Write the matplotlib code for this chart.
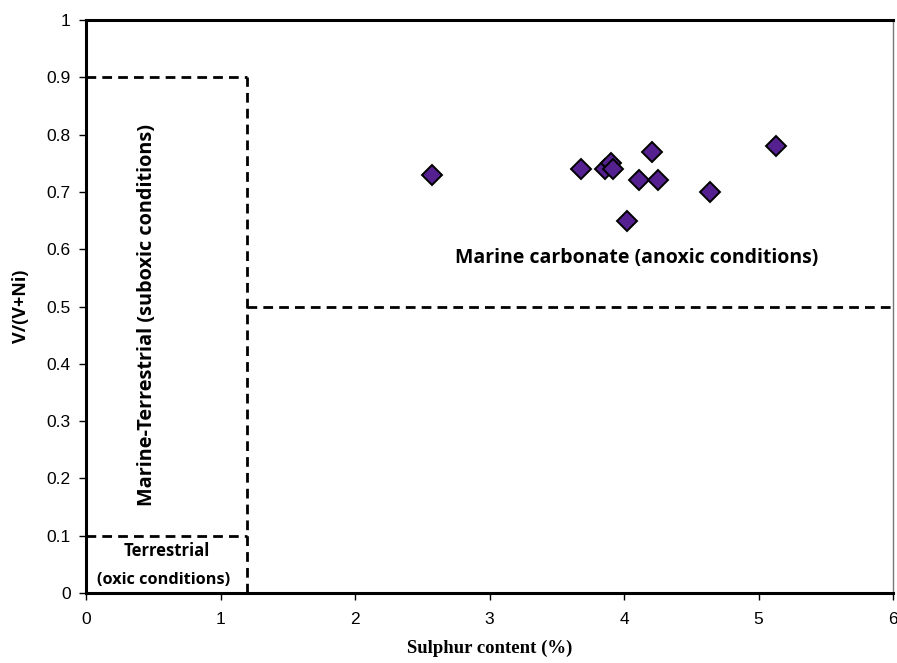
import matplotlib
matplotlib.use("Agg")
import matplotlib.pyplot as plt

sulphur = [2.57, 3.68, 3.86, 3.90, 3.92, 4.21, 4.11, 4.25, 4.02, 4.64, 5.13]
v_ratio = [0.73, 0.74, 0.74, 0.75, 0.74, 0.77, 0.72, 0.72, 0.65, 0.70, 0.78]

x_ticks = [0, 1, 2, 3, 4, 5, 6]
y_ticks = [0, 0.1, 0.2, 0.3, 0.4, 0.5, 0.6, 0.7, 0.8, 0.9, 1.0]
y_tick_labels = ["0", "0.1", "0.2", "0.3", "0.4", "0.5", "0.6", "0.7", "0.8", "0.9", "1"]

fig = plt.figure(figsize=(8.97, 6.63), dpi=100)
ax = fig.add_axes([0.0959, 0.1056, 0.8997, 0.8642])

dash = (0, (3.5, 2.2))
ax.plot([0, 1.2], [0.9, 0.9], color="black", lw=2, linestyle=dash)
ax.plot([1.2, 1.2], [0, 0.9], color="black", lw=2, linestyle=dash)
ax.plot([0, 1.2], [0.1, 0.1], color="black", lw=2, linestyle=dash)
ax.plot([1.2, 6], [0.5, 0.5], color="black", lw=2, linestyle=dash)

ax.plot(sulphur, v_ratio, linestyle="none", marker="D", markersize=10.5,
        markerfacecolor="#55208f", markeredgecolor="black", markeredgewidth=1.4)

ax.set_xlim(0, 6)
ax.set_ylim(0, 1)
ax.set_xticks(x_ticks)
ax.set_yticks(y_ticks)
ax.set_yticklabels(y_tick_labels)
ax.tick_params(axis="both", direction="out", length=5, width=1, labelsize=12.5,
               pad=6)
for lab in ax.get_xticklabels() + ax.get_yticklabels():
    lab.set_fontfamily("Liberation Sans")
ax.tick_params(axis="x", pad=9)

for side in ["left", "top", "bottom"]:
    ax.spines[side].set_linewidth(2.2)
    ax.spines[side].set_color("black")
ax.spines["right"].set_linewidth(1)
ax.spines["right"].set_color("#777777")

ax.set_ylabel("V/(V+Ni)", fontsize=13, fontweight="bold", family="Open Sans", labelpad=12)
ax.set_xlabel("Sulphur content (%)", fontsize=13.5, fontweight="bold",
              family="Liberation Serif", labelpad=9)

ax.text(4.09, 0.585, "Marine carbonate (anoxic conditions)", ha="center", va="center",
        fontsize=14, fontweight="bold", family="Open Sans")
ax.text(0.45, 0.485, "Marine-Terrestrial (suboxic conditions)", ha="center", va="center",
        rotation=90, fontsize=14.3, fontweight="bold", family="Open Sans")
ax.text(0.6, 0.073, "Terrestrial", ha="center", va="center",
        fontsize=12, fontweight="bold", family="Open Sans")
ax.text(0.58, 0.022, "(oxic conditions)", ha="center", va="center",
        fontsize=11.7, fontweight="bold", family="Open Sans")

fig.savefig("out.png", dpi=100)
